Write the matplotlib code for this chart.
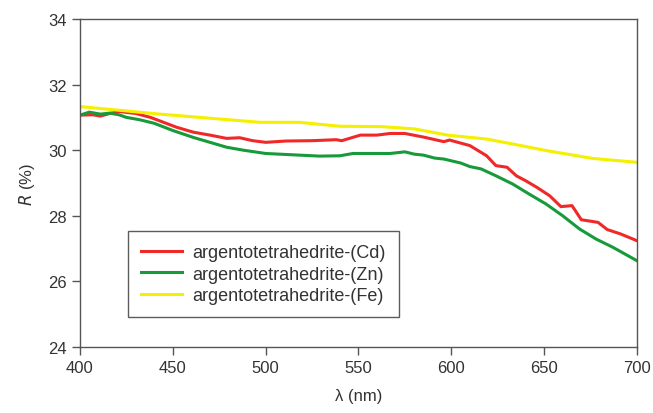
import matplotlib.pyplot as plt
import numpy as np

plt.rcParams['font.family'] = ['Liberation Sans', 'DejaVu Sans']

# data
wl_cd = [400, 407, 411, 416, 421, 430, 438, 445, 452, 461, 470, 479, 486, 493, 500,
         511, 525, 538, 541, 551, 560, 567, 575, 585, 596, 599, 610, 619, 624, 630,
         635, 640, 646, 653, 659, 665, 670, 679, 684, 691, 700]
r_cd = [31.07, 31.08, 31.04, 31.12, 31.18, 31.12, 31.0, 30.85, 30.70, 30.55, 30.46,
        30.36, 30.38, 30.29, 30.24, 30.28, 30.29, 30.32, 30.29, 30.46, 30.46, 30.51,
        30.51, 30.40, 30.26, 30.31, 30.14, 29.83, 29.53, 29.48, 29.22, 29.07, 28.87,
        28.61, 28.28, 28.31, 27.88, 27.80, 27.58, 27.45, 27.24]

wl_zn = [400, 405, 411, 416, 421, 425, 432, 440, 450, 461, 470, 479, 488, 500, 518,
         529, 540, 547, 567, 575, 580, 585, 591, 596, 605, 610, 616, 624, 633, 642,
         651, 660, 669, 678, 687, 700]
r_zn = [31.07, 31.16, 31.10, 31.13, 31.08, 31.0, 30.93, 30.82, 30.60, 30.39, 30.24,
        30.09, 30.0, 29.90, 29.85, 29.82, 29.83, 29.90, 29.90, 29.95, 29.88, 29.85,
        29.76, 29.73, 29.61, 29.50, 29.43, 29.22, 28.97, 28.66, 28.36, 28.0, 27.6,
        27.29, 27.04, 26.63]

wl_fe = [400, 443, 497, 518, 540, 562, 580, 598, 619, 633, 651, 676, 700]
r_fe = [31.33, 31.10, 30.85, 30.85, 30.73, 30.72, 30.65, 30.46, 30.34, 30.19, 29.99,
        29.75, 29.63]

labels = ['argentotetrahedrite-(Cd)', 'argentotetrahedrite-(Zn)', 'argentotetrahedrite-(Fe)']
colors = ['#f02828', '#179a3a', '#f5ef00']

fig = plt.figure(figsize=(6.53, 4.14), dpi=100)
ax = fig.add_axes([0.1225, 0.1594, 0.853, 0.7923])

ax.plot(wl_cd, r_cd, color=colors[0], lw=2.2, label=labels[0])
ax.plot(wl_zn, r_zn, color=colors[1], lw=2.2, label=labels[1])
ax.plot(wl_fe, r_fe, color=colors[2], lw=2.2, label=labels[2])

ax.set_xlim(400, 700)
ax.set_ylim(24, 34)
ax.set_xticks(np.arange(400, 701, 50))
ax.set_yticks(np.arange(24, 35, 2))
ax.tick_params(direction='out', length=6, width=1, colors='#555555',
               labelcolor='#333333', labelsize=12, top=False, right=False)
for s in ax.spines.values():
    s.set_color('#555555')
    s.set_linewidth(1)

ax.set_xlabel('λ (nm)', fontsize=12, color='#333333', labelpad=9)
ax.set_ylabel('$\\it{R}$ (%)', fontsize=12, color='#333333', labelpad=8)

leg = ax.legend(loc='lower left', bbox_to_anchor=(0.086, 0.091), fontsize=13,
                frameon=True, fancybox=False, edgecolor='#333333',
                handlelength=2.3, labelspacing=0.25, borderpad=0.72,
                handletextpad=0.55, borderaxespad=0)
leg.get_frame().set_linewidth(1)
for t in leg.get_texts():
    t.set_color('#333333')

fig.savefig('out.png', dpi=100)
